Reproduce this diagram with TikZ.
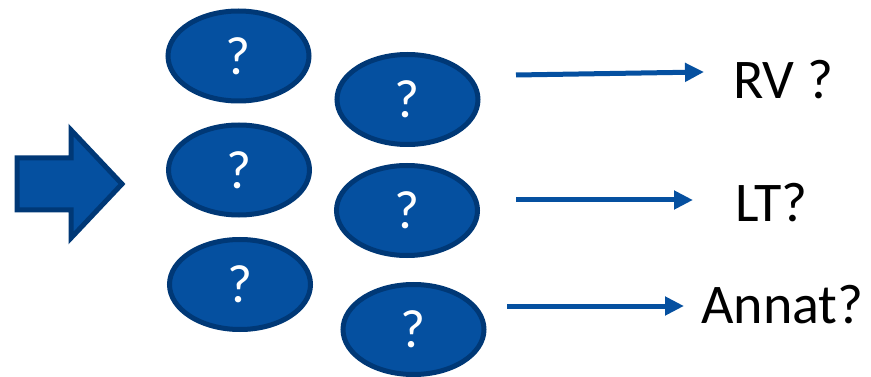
\documentclass[tikz,border=0pt]{standalone}
\usepackage{fontspec}
\setmainfont{Carlito}
\usepackage{xcolor}
\usepackage{tikz}
\usetikzlibrary{shapes.geometric}
\usetikzlibrary{arrows.meta}
\definecolor{qfill}{RGB}{5,80,160}
\definecolor{qline}{RGB}{0,56,118}

\tikzset{
  qbox/.style={ellipse,fill=qfill,draw=qline,line width=5pt,inner sep=0pt,
    minimum width=141pt,minimum height=90pt,text=white,
    font=\fontsize{54}{60}\selectfont},
  flow/.style={draw=qfill,line width=5pt,-{Triangle[length=19pt,width=18pt]}},
  lbl/.style={inner sep=0pt,anchor=base west,font=\fontsize{56}{62}\selectfont}
}

\begin{document}
\begin{tikzpicture}[x=1pt,y=-1pt]
	\useasboundingbox (0,0) rectangle (871,377);
	\filldraw[fill=qfill,draw=qline,line width=5pt,line join=miter]
	  (17,158)--(71,158)--(71,130)--(122,184)--(71,238)--(71,210)--(17,210)--cycle;
	\node[qbox] (q11) at (238.5,56) {?};
	\node[qbox] (q21) at (239,170) {?};
	\node[qbox] (q31) at (240,284.5) {?};
	\node[qbox] (q12) at (407.5,99.5) {?};
	\node[qbox] (q22) at (407,210.5) {?};
	\node[qbox] (q32) at (413.5,329.5) {?};
	\node[lbl] (rv) at (733,99) {RV ?};
	\node[lbl] (lt) at (735,222) {LT?};
	\node[lbl] (annat) at (701,323) {Annat?};
	\coordinate (s1) at (516,75);
	\coordinate (e1) at (704,72);
	\coordinate (s2) at (516,200);
	\coordinate (e2) at (693,200);
	\coordinate (s3) at (507,306);
	\coordinate (e3) at (684,306);
	\draw[flow] (s1)--(e1);
	\draw[flow] (s2)--(e2);
	\draw[flow] (s3)--(e3);
\end{tikzpicture}
\end{document}
